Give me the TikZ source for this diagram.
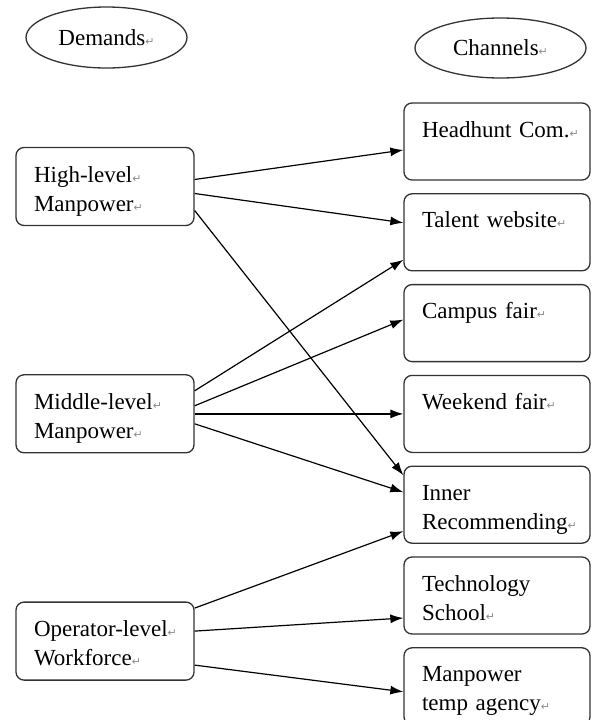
\documentclass[tikz,border=0pt]{standalone}
\usepackage{fontspec}
\setmainfont{Liberation Serif}
\newfontfamily\symfont{DejaVu Sans}
\usetikzlibrary{positioning, shapes.geometric, arrows.meta}
\hyphenpenalty=10000
\exhyphenpenalty=10000
\newcommand{\pmark}{{\symfont\fontsize{11}{11}\selectfont\textcolor{black!45}{↵}}}
\newcommand{\boxlines}[2]{\rule{0pt}{27pt}\mbox{#1}\\\mbox{#2}\rule[-7pt]{0pt}{7pt}}

\begin{document}
\begin{tikzpicture}[
        x=1pt, y=1pt,
        line width=1.2pt,
        node distance=12.5pt,
        every node/.style={font=\fontsize{23}{29}\selectfont},
        head/.style={ellipse, draw=black!80, line width=1.3pt, inner sep=0pt},
        box/.style={draw=black!80, line width=1.3pt, rounded corners=8pt, align=left, inner xsep=18pt, inner ysep=4pt, minimum height=77pt},
        demand/.style={box, text width=142pt, minimum height=78pt},
        channel/.style={box, text width=150pt},
        >={Latex[length=13pt, width=9pt]}
    ]
        \useasboundingbox (0,0) rectangle (593,-720);

        % Headers
        \node[head, minimum width=161pt, minimum height=61pt] (demands) at (106.5,-37.5) {Demands\pmark};
        \node[head, minimum width=171pt, minimum height=60pt] (channels) at (500.5,-48) {Channels\pmark};

        % Demand levels
        \node[demand] (high) at (105,-186.5) {\boxlines{High-level\pmark}{Manpower\pmark}};
        \node[demand, below=148pt of high] (mid) {\boxlines{Middle-level\pmark}{Manpower\pmark}};
        \node[demand, below=148pt of mid] (op) {\boxlines{Operator-level\pmark}{Workforce\pmark}};

        % Channels
        \node[channel] (hh) at (497,-141.5) {\boxlines{Headhunt Com.\pmark}{}};
        \node[channel, below=of hh] (tw) {\boxlines{Talent website\pmark}{}};
        \node[channel, below=of tw] (campus) {\boxlines{Campus fair\pmark}{}};
        \node[channel, below=of campus] (weekend) {\boxlines{Weekend fair\pmark}{}};
        \node[channel, below=of weekend] (inner) {\boxlines{Inner}{Recommending\pmark}};
        \node[channel, below=of inner] (tech) {\boxlines{Technology}{School\pmark}};
        \node[channel, below=of tech] (temp) {\boxlines{Manpower}{temp agency\pmark}};

        % Arrows
        \draw[->] ([yshift=7pt]high.east) -- ([yshift=-8.5pt]hh.west);
        \draw[->] ([yshift=-7pt]high.east) -- ([yshift=9.5pt]tw.west);
        \draw[->] ([yshift=-24pt]high.east) -- ([yshift=29.5pt]inner.west);
        \draw[->] ([yshift=23pt]mid.east) -- ([yshift=-27.5pt]tw.west);
        \draw[->] ([yshift=8pt]mid.east) -- ([yshift=3.5pt]campus.west);
        \draw[->] (mid.east |- weekend.west) -- (weekend.west);
        \draw[->] ([yshift=-10pt]mid.east) -- ([yshift=12.5pt]inner.west);
        \draw[->] ([yshift=33pt]op.east) -- ([yshift=-26.5pt]inner.west);
        \draw[->] ([yshift=10pt]op.east) -- ([yshift=-22.5pt]tech.west);
        \draw[->] ([yshift=-24pt]op.east) -- ([yshift=-5.5pt]temp.west);
    \end{tikzpicture}
\end{document}
